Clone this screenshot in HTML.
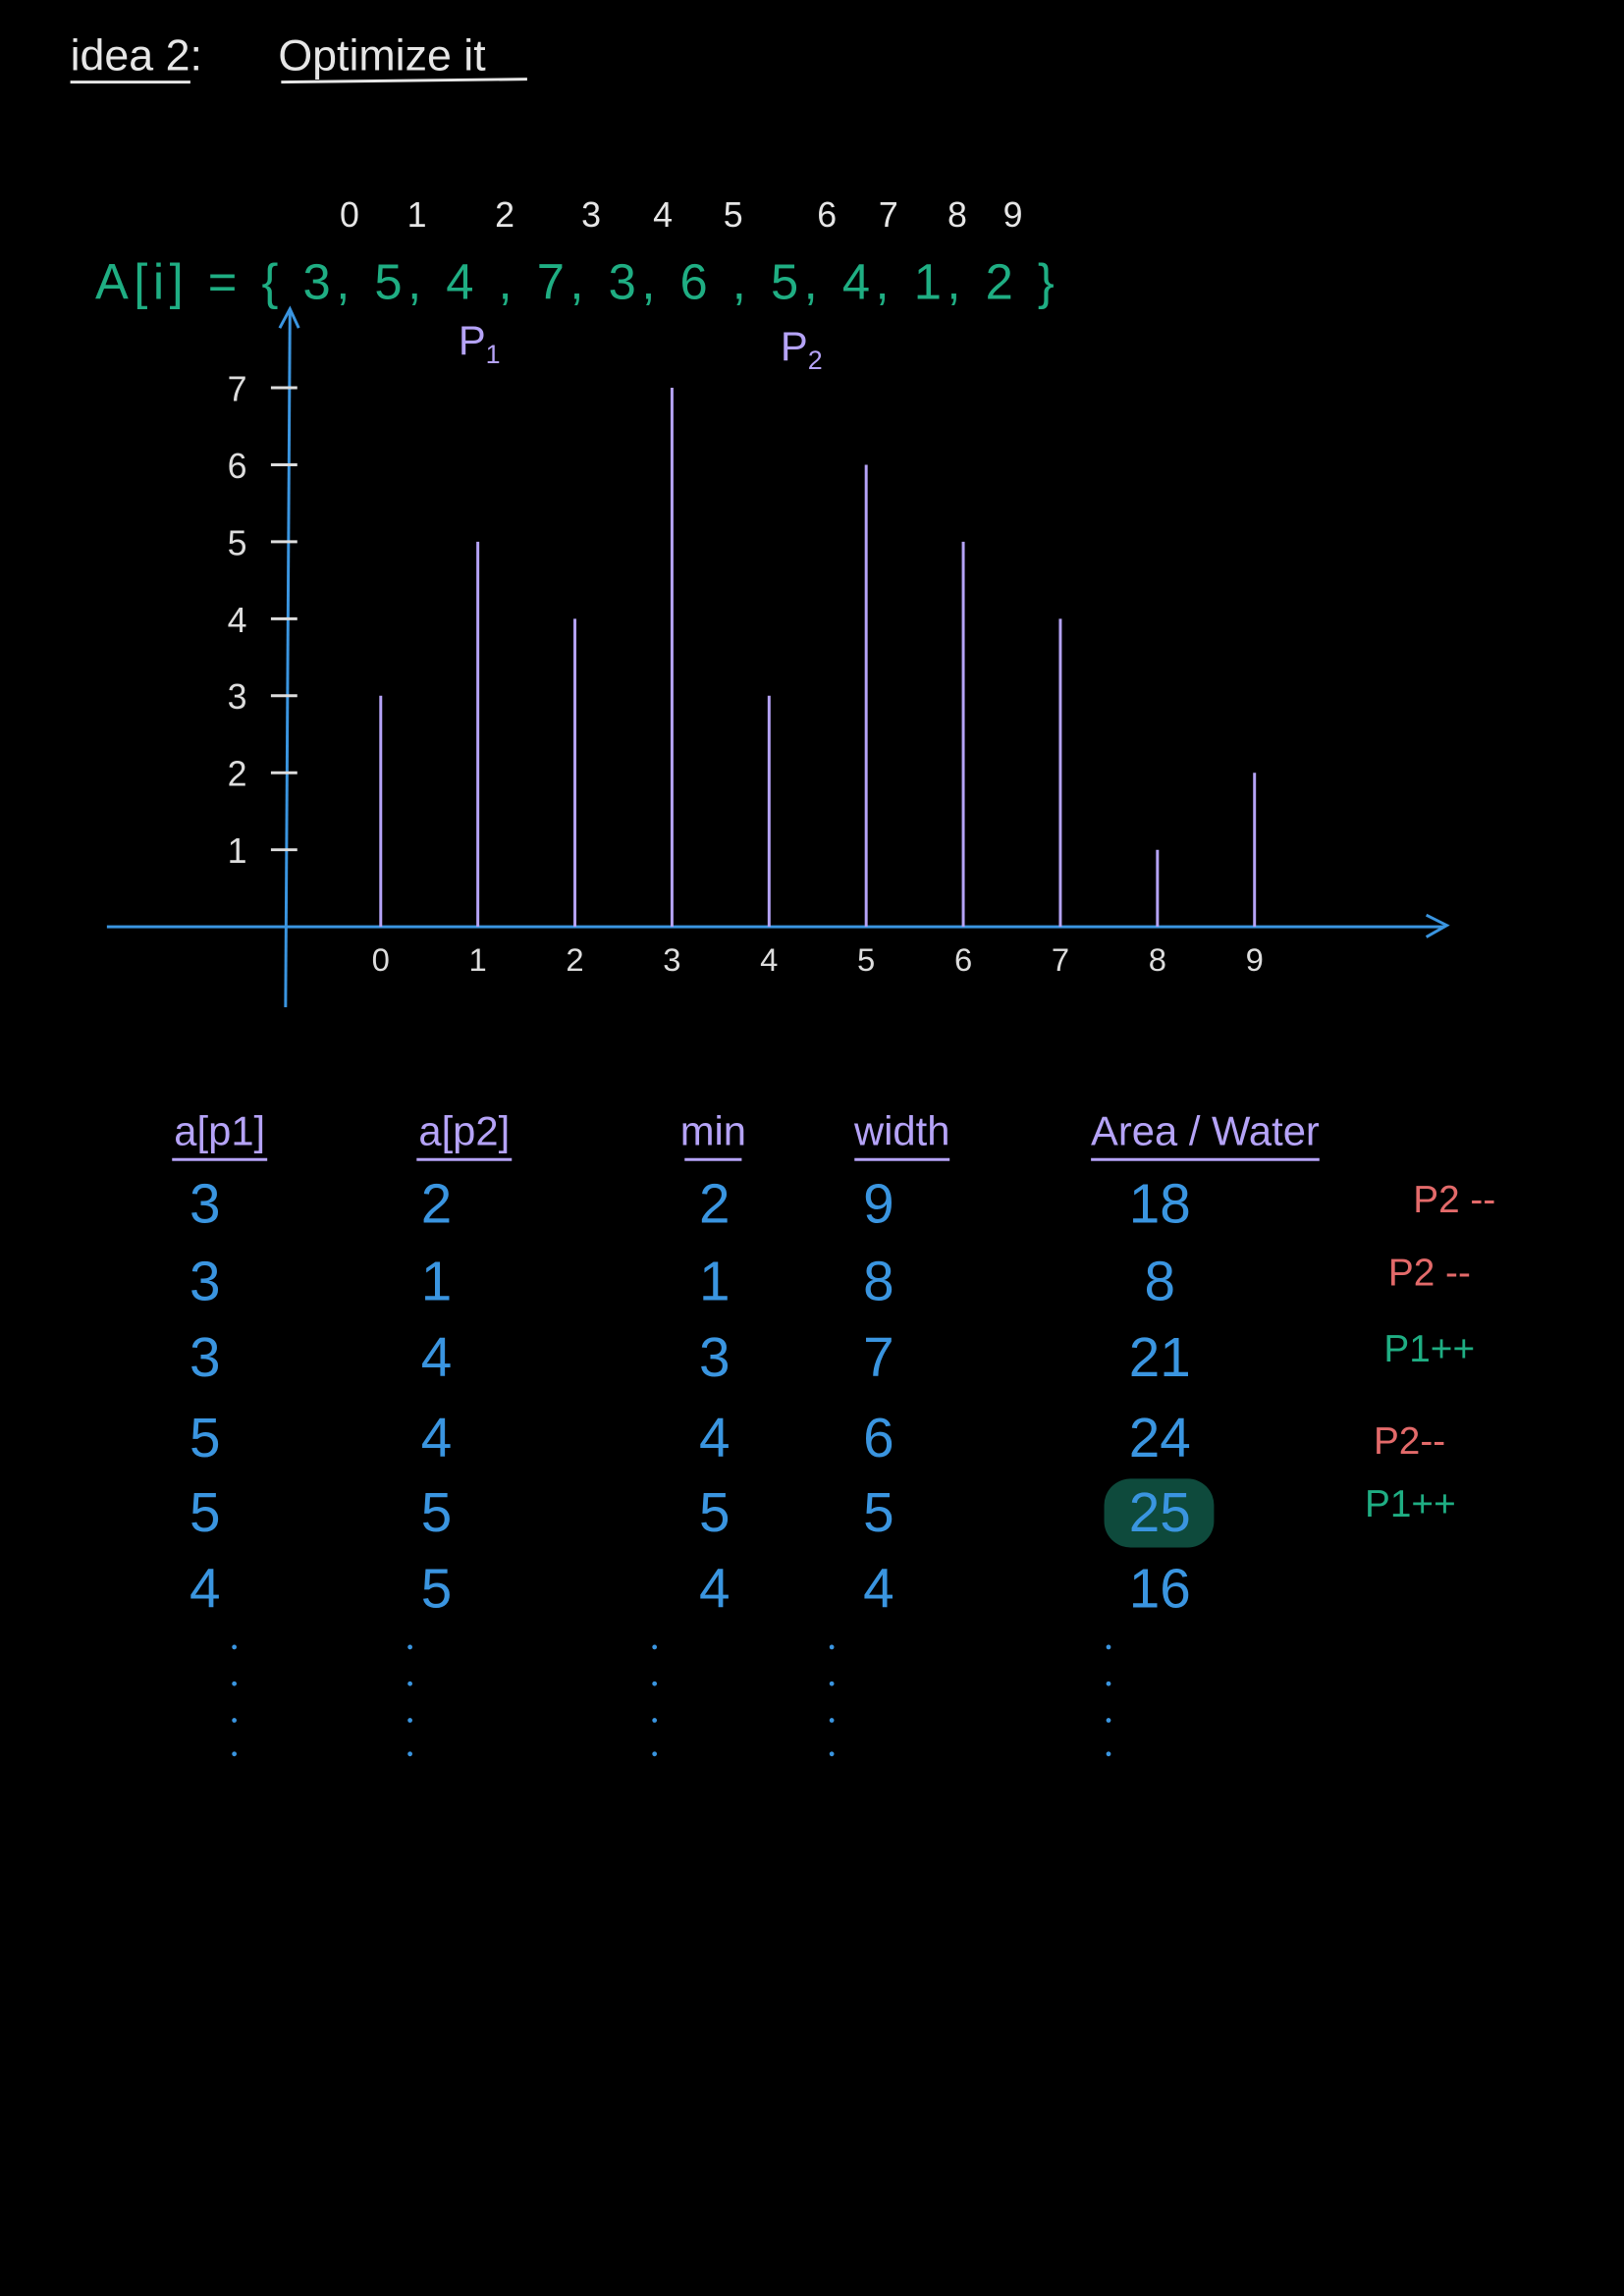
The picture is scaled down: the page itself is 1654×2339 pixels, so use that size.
<!DOCTYPE html>
<html><head><meta charset="utf-8"><style>
html,body{margin:0;padding:0;background:#000;}
svg{display:block;}
text{font-family:"Liberation Sans",sans-serif;}
</style></head><body>
<svg id="c" width="1654" height="2339" viewBox="0 0 1109 1568.2">
<rect width="1109" height="1568.2" fill="#000"/>
<g fill="#e6e6e6" font-size="30">
<text x="48" y="48">idea 2:</text>
<text x="190" y="48">Optimize it</text>
<line x1="48" y1="56" x2="130" y2="56" stroke="#e6e6e6" stroke-width="2"/>
<line x1="192" y1="56" x2="360" y2="54" stroke="#e6e6e6" stroke-width="2"/>
</g>
<g id="idx" fill="#e6e6e6" font-size="24"></g>
<text x="65" y="204" fill="#1fae83" font-size="34" textLength="655">A[i] = { 3, 5, 4 , 7, 3, 6 , 5, 4, 1, 2 }</text>
<text x="313" y="242" fill="#b5a3f7" font-size="28">P<tspan font-size="18" dy="6">1</tspan></text>
<text x="533" y="246" fill="#b5a3f7" font-size="28">P<tspan font-size="18" dy="6">2</tspan></text>
<g id="axes">
<line x1="195" y1="688" x2="198" y2="212" stroke="#3a95e0" stroke-width="2"/>
<path d="M191 224 L198 211 L204 224" fill="none" stroke="#3a95e0" stroke-width="2"/>
<line x1="73" y1="633" x2="986" y2="633" stroke="#3a95e0" stroke-width="2"/>
<path d="M974 625 L988 632 L974 640" fill="none" stroke="#3a95e0" stroke-width="2"/>
</g>
<g id="yt"></g>
<g id="bars"></g>
<g id="xt"></g>
<rect x="754" y="1010" width="75" height="47" rx="18" fill="#0e4a3c"/>
<g id="tbl"></g>
<g id="notes"></g>
<g id="dots" fill="#3a95e0"></g>
</svg>
<script>
const indices=["0","1","2","3","4","5","6","7","8","9"];
const values=[3,5,4,7,3,6,5,4,1,2];
const yTicks=[1,2,3,4,5,6,7];
const headers=["a[p1]","a[p2]","min","width","Area / Water"];
const colA=[3,3,3,5,5,4];
const colB=[2,1,4,4,5,5];
const colMin=[2,1,3,4,5,4];
const colW=[9,8,7,6,5,4];
const colArea=[18,8,21,24,25,16];
const moves=["P2 --","P2 --","P1++","P2--","P1++"];
const NS="http://www.w3.org/2000/svg";
function mk(tag,attrs,parent,txt){const e=document.createElementNS(NS,tag);for(const k in attrs)e.setAttribute(k,attrs[k]);if(txt!==undefined)e.textContent=txt;parent.appendChild(e);return e;}
const y0=633,unit=52.6;
function ys(v){return y0-v*unit;}
function xs(i){return 260+i*66.3;}
const idxX=[232,278,338,397,446,494,558,600,647,685];
const idx=document.getElementById('idx');
indices.forEach((t,i)=>{const e=mk('text',{x:idxX[i],y:155},idx,t);

});
const yt=document.getElementById('yt');
yTicks.forEach(v=>{
const l=mk('line',{x1:185,y1:ys(v),x2:203,y2:ys(v),stroke:'#ddd','stroke-width':2},yt);


const t=mk('text',{x:162,y:ys(v)+9,fill:'#ddd','font-size':24,'text-anchor':'middle'},yt,String(v));

});
const bars=document.getElementById('bars');
values.forEach((v,i)=>{
const b=mk('line',{x1:xs(i),y1:y0,x2:xs(i),y2:ys(v),stroke:'#b5a3f7','stroke-width':2},bars);

});
const xt=document.getElementById('xt');
indices.forEach((t,i)=>{const e=mk('text',{x:xs(i),y:663,fill:'#ddd','font-size':22,'text-anchor':'middle'},xt,t);

});
const tbl=document.getElementById('tbl');
const hx=[150,317,487,616,823];
headers.forEach((h,i)=>{
const t=mk('text',{x:hx[i],y:782,fill:'#b5a3f7','font-size':28,'text-anchor':'middle'},tbl,h);


const w=h.length*13;
mk('line',{x1:hx[i]-w/2,y1:792,x2:hx[i]+w/2,y2:792,stroke:'#b5a3f7','stroke-width':2},tbl);});
const cx=[140,298,488,600,792];
const rowY=[835,888,940,995,1046,1098];
[colA,colB,colMin,colW,colArea].forEach((col,c)=>{col.forEach((v,r)=>{
const t=mk('text',{x:cx[c],y:rowY[r],fill:'#3a95e0','font-size':38,'text-anchor':'middle'},tbl,String(v));

});});
const notes=document.getElementById('notes');
const nx=[965,948,945,938,932],ny=[828,878,930,993,1036];
moves.forEach((m,i)=>{const t=mk('text',{x:nx[i],y:ny[i],fill:m.indexOf('++')>=0?'#1fae83':'#e36a6a','font-size':26},notes,m);

});
const dots=document.getElementById('dots');
[160,280,447,568,757].forEach(x=>{[1125,1150,1175,1198].forEach(y=>{
const d=mk('circle',{cx:x,cy:y,r:1.6},dots);

});});
</script>
</body></html>
